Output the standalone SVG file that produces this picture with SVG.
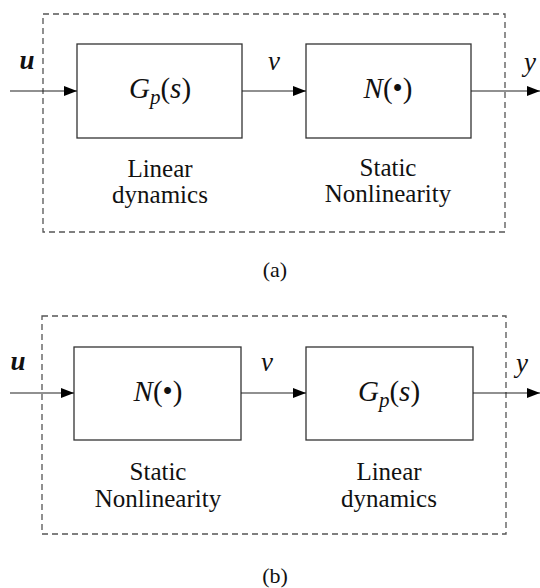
<svg xmlns="http://www.w3.org/2000/svg" width="540" height="588" viewBox="0 0 540 588" font-family="Liberation Serif">
<defs>
<marker id="ah" markerWidth="13" markerHeight="10" refX="13" refY="5" orient="auto" markerUnits="userSpaceOnUse">
<path d="M0,0 L13,5 L0,10 Z" fill="#000"/>
</marker>
</defs>
<rect width="540" height="588" fill="#fff"/>
<rect x="43" y="14" width="462" height="218" fill="none" stroke="#555" stroke-width="1.3" stroke-dasharray="6,4"/>
<g id="a-gp">
<rect x="77" y="44" width="165" height="94" fill="#fff" stroke="#333" stroke-width="1.3"/>
<text font-family="Liberation Serif" font-size="29" font-style="italic" text-anchor="middle" fill="#111" x="160" y="98">G<tspan font-size="21" dy="6">p</tspan><tspan font-style="normal" dy="-6">(</tspan>s<tspan font-style="normal">)</tspan></text>
<text font-family="Liberation Serif" font-size="25" text-anchor="middle" fill="#111" x="160" y="177">Linear</text>
<text font-family="Liberation Serif" font-size="25" text-anchor="middle" fill="#111" x="160" y="203">dynamics</text>
</g>
<g id="a-n">
<rect x="306" y="44" width="165" height="94" fill="#fff" stroke="#333" stroke-width="1.3"/>
<text font-family="Liberation Serif" font-size="29" font-style="italic" text-anchor="middle" fill="#111" x="388" y="98">N<tspan font-style="normal">(•)</tspan></text>
<text font-family="Liberation Serif" font-size="25" text-anchor="middle" fill="#111" x="388" y="176">Static</text>
<text font-family="Liberation Serif" font-size="25" text-anchor="middle" fill="#111" x="388" y="202">Nonlinearity</text>
</g>
<g id="a-connectors" fill="none" stroke="#222" stroke-width="1.2" marker-end="url(#ah)">
<line x1="10" y1="91" x2="77" y2="91"/>
<line x1="242" y1="91" x2="306" y2="91"/>
<line x1="471" y1="91" x2="540" y2="91"/>
</g>
<text font-family="Liberation Serif" font-size="27" font-style="italic" font-weight="bold" text-anchor="middle" fill="#111" x="27" y="69">u</text>
<text font-family="Liberation Serif" font-size="27" font-style="italic" text-anchor="middle" fill="#111" x="274" y="70">v</text>
<text font-family="Liberation Serif" font-size="27" font-style="italic" text-anchor="middle" fill="#111" x="530" y="71">y</text>
<text font-family="Liberation Serif" font-size="22" text-anchor="middle" fill="#111" x="275" y="277">(a)</text>
<rect x="42" y="316" width="464" height="218" fill="none" stroke="#555" stroke-width="1.3" stroke-dasharray="6,4"/>
<g id="b-n">
<rect x="74" y="347" width="167" height="93" fill="#fff" stroke="#333" stroke-width="1.3"/>
<text font-family="Liberation Serif" font-size="29" font-style="italic" text-anchor="middle" fill="#111" x="158" y="401">N<tspan font-style="normal">(•)</tspan></text>
<text font-family="Liberation Serif" font-size="25" text-anchor="middle" fill="#111" x="158" y="480">Static</text>
<text font-family="Liberation Serif" font-size="25" text-anchor="middle" fill="#111" x="158" y="507">Nonlinearity</text>
</g>
<g id="b-gp">
<rect x="306" y="347" width="167" height="93" fill="#fff" stroke="#333" stroke-width="1.3"/>
<text font-family="Liberation Serif" font-size="29" font-style="italic" text-anchor="middle" fill="#111" x="389" y="401">G<tspan font-size="21" dy="6">p</tspan><tspan font-style="normal" dy="-6">(</tspan>s<tspan font-style="normal">)</tspan></text>
<text font-family="Liberation Serif" font-size="25" text-anchor="middle" fill="#111" x="389" y="480">Linear</text>
<text font-family="Liberation Serif" font-size="25" text-anchor="middle" fill="#111" x="389" y="507">dynamics</text>
</g>
<g id="b-connectors" fill="none" stroke="#222" stroke-width="1.2" marker-end="url(#ah)">
<line x1="10" y1="393" x2="74" y2="393"/>
<line x1="241" y1="393" x2="306" y2="393"/>
<line x1="473" y1="393" x2="540" y2="393"/>
</g>
<text font-family="Liberation Serif" font-size="27" font-style="italic" font-weight="bold" text-anchor="middle" fill="#111" x="18" y="370">u</text>
<text font-family="Liberation Serif" font-size="27" font-style="italic" text-anchor="middle" fill="#111" x="267" y="371">v</text>
<text font-family="Liberation Serif" font-size="27" font-style="italic" text-anchor="middle" fill="#111" x="522" y="372">y</text>
<text font-family="Liberation Serif" font-size="22" text-anchor="middle" fill="#111" x="275" y="583">(b)</text>
</svg>
